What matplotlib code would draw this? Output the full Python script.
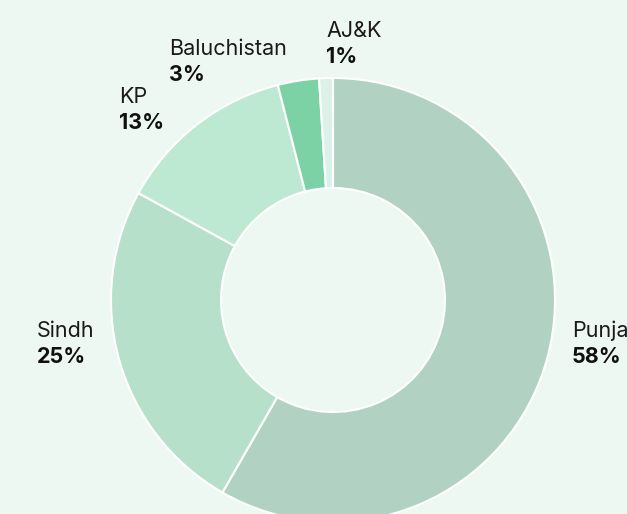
import matplotlib
matplotlib.use("Agg")
import matplotlib.pyplot as plt

regions = ["Punjab", "Sindh", "KP", "Baluchistan", "AJ&K"]
shares = [58.3, 24.7, 13.0, 3.0, 1.0]
colors = ["#b1d2c2", "#b7e0cb", "#bde9d3", "#7cd2a4", "#dcf1e7"]

W, H = 627, 514
fig = plt.figure(figsize=(W / 100, H / 100), dpi=100)
bg = "#eef8f2"
fig.patch.set_facecolor(bg)
ax = fig.add_axes([0, 0, 1, 1])
ax.set_facecolor(bg)

cx, cy, R, r = 333, 300, 222, 112
ax.pie(shares, colors=colors, startangle=90, counterclock=False,
       center=(cx, -cy), radius=R,
       wedgeprops=dict(width=R - r, edgecolor="white", linewidth=1.5),
       frame=True)
ax.set_xlim(0, W)
ax.set_ylim(-H, 0)
ax.set_aspect("equal")
ax.axis("off")

label_pos = {
    "Punjab": (572, 331),
    "Sindh": (37, 331),
    "KP": (119, 97),
    "Baluchistan": (169, 49),
    "AJ&K": (326, 31),
}
fs = 15.5
for name, val in zip(regions, shares):
    x, y = label_pos[name]
    ax.text(x, -y, name, fontsize=fs, family="Inter", color="#1a1a1a",
            ha="left", va="center")
    ax.text(x, -(y + 26), f"{round(val)}%", fontsize=fs, family="Inter",
            fontweight="bold", color="#111111", ha="left", va="center")

fig.savefig("out.png", dpi=100, facecolor=bg)
